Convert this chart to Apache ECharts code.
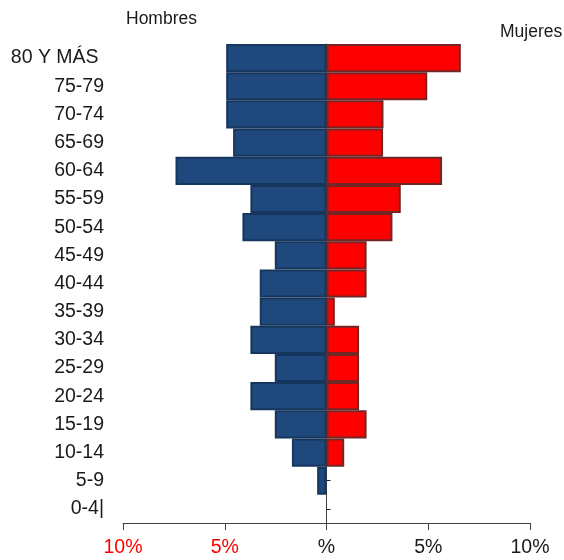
<!DOCTYPE html>
<html>
<head>
<meta charset="utf-8">
<script src="https://cdn.jsdelivr.net/npm/echarts@6/dist/echarts.min.js"></script>
<style>
  html, body { margin: 0; padding: 0; background: #fff; }
  #chart { width: 564px; height: 560px; }
</style>
</head>
<body>
<div id="chart"></div>
<script>
// Age groups, bottom to top
const ageGroups = ['0-4|', '5-9', '10-14', '15-19', '20-24', '25-29', '30-34', '35-39',
  '40-44', '45-49', '50-54', '55-59', '60-64', '65-69', '70-74', '75-79', '80 Y MÁS '];

// Share of population (%) per age group
const hombres = [0, 0.46, 1.70, 2.54, 3.74, 2.54, 3.74, 3.28, 3.28, 2.54, 4.13, 3.74, 7.42, 4.59, 4.93, 4.93, 4.93];
const mujeres = [0, 0, 0.87, 1.97, 1.60, 1.60, 1.60, 0.41, 1.97, 1.97, 3.24, 3.65, 5.68, 2.78, 2.80, 4.95, 6.60];

// Horizontal axis ticks
const xTicks = [-10, -5, 0, 5, 10];

const chart = echarts.init(document.getElementById('chart'), null, { renderer: 'canvas' });

const font = 'Liberation Sans, Arial, sans-serif';

// Empty groups get no bar at all
const barValue = (v, sign) => (v === 0 ? null : sign * v);

chart.setOption({
  animation: false,
  backgroundColor: '#ffffff',
  grid: { left: 123, right: 34, top: 44, bottom: 37, containLabel: false },
  xAxis: {
    type: 'value',
    min: xTicks[0],
    max: xTicks[xTicks.length - 1],
    interval: 5,
    axisLine: { show: true, onZero: false, lineStyle: { color: '#404040', width: 1 } },
    axisTick: { show: true, length: 7, lineStyle: { color: '#404040' } },
    splitLine: { show: false },
    axisLabel: {
      margin: 15,
      fontFamily: font,
      fontSize: 19.5,
      formatter: v => (v === 0 ? '%' : Math.abs(v) + '%'),
      color: v => (parseFloat(v) < 0 ? '#ff0000' : '#1a1a1a')
    }
  },
  yAxis: [
    {
      type: 'category',
      data: ageGroups,
      position: 'left',
      axisLine: { show: false, onZero: false },
      axisTick: { show: false },
      axisLabel: { margin: 19, fontFamily: font, fontSize: 19.5, color: '#1a1a1a' }
    },
    {
      type: 'category',
      data: ageGroups,
      position: 'left',
      axisLine: { show: true, onZero: true, lineStyle: { color: '#404040', width: 1 } },
      axisTick: { show: true, inside: true, alignWithLabel: true, length: 4, lineStyle: { color: '#222' } },
      axisLabel: { show: false }
    }
  ],
  series: [
    {
      name: 'Hombres',
      type: 'bar',
      yAxisIndex: 0,
      data: hombres.map(v => barValue(v, -1)),
      barCategoryGap: '0%',
      barGap: '-100%',
      itemStyle: { color: '#1f497d', borderColor: '#17365d', borderWidth: 2 }
    },
    {
      name: 'Mujeres',
      type: 'bar',
      yAxisIndex: 0,
      data: mujeres.map(v => barValue(v, 1)),
      barCategoryGap: '0%',
      barGap: '-100%',
      itemStyle: { color: '#ff0000', borderColor: '#722626', borderWidth: 2 }
    }
  ],
  graphic: [
    { type: 'text', left: 126, top: 10, style: { text: 'Hombres', font: '17.5px ' + font, fill: '#1a1a1a' } },
    { type: 'text', left: 500, top: 23, style: { text: 'Mujeres', font: '17.5px ' + font, fill: '#1a1a1a' } }
  ]
});
</script>
</body>
</html>
